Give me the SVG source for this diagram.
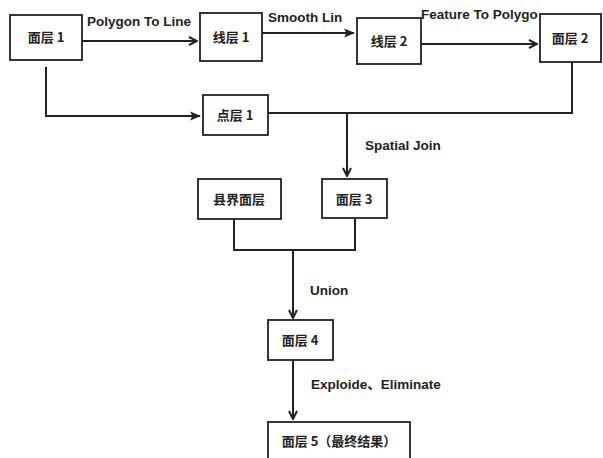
<svg xmlns="http://www.w3.org/2000/svg" width="603" height="458" viewBox="0 0 603 458">
<style>
.box{fill:#fff;stroke:#222;stroke-width:1.8}
.t{font-family:"Noto Sans CJK SC","Liberation Sans",sans-serif;font-size:13px;font-weight:bold;fill:#222;text-anchor:middle}
.l{font-family:"Liberation Sans","Noto Sans CJK SC",sans-serif;font-size:13.5px;font-weight:bold;fill:#222}
.c{fill:none;stroke:#222;stroke-width:2}
</style>
<defs>
<marker id="open" viewBox="0 0 10 10" refX="9" refY="5" markerWidth="10" markerHeight="10" markerUnits="userSpaceOnUse" orient="auto">
<path d="M1,1 L9,5 L1,9" fill="none" stroke="#222" stroke-width="2"/>
</marker>
<marker id="fill" viewBox="0 0 10 10" refX="9" refY="5" markerWidth="11" markerHeight="11" markerUnits="userSpaceOnUse" orient="auto">
<path d="M0,1 L10,5 L0,9 L2,5 Z" fill="#222"/>
</marker>
</defs>
<rect width="603" height="458" fill="#fff"/>
<g id="connectors">
<path class="c" d="M82,41 H197" marker-end="url(#open)"/>
<path class="c" d="M262,33 H354" marker-end="url(#fill)"/>
<path class="c" d="M421,44 H537" marker-end="url(#open)"/>
<path class="c" d="M46,67 V116 H200" marker-end="url(#fill)"/>
<path class="c" d="M268,113 H572 V62"/>
<path class="c" d="M347,113 V176" marker-end="url(#open)"/>
<path class="c" d="M234,219 V250 H355 V219"/>
<path class="c" d="M293,250 V318" marker-end="url(#open)"/>
<path class="c" d="M293,360 V419" marker-end="url(#open)"/>
<text class="l" x="87" y="26">Polygon To Line</text>
<text class="l" x="268" y="22">Smooth Lin</text>
<text class="l" x="421" y="19">Feature To Polygo</text>
<text class="l" x="365" y="150">Spatial Join</text>
<text class="l" x="310" y="295">Union</text>
<text class="l" x="311" y="389">Exploide、Eliminate</text>
</g>
<g id="n1"><rect class="box" x="10" y="15" width="72" height="45"/><text class="t" x="46" y="42">面层 1</text></g>
<g id="n2"><rect class="box" x="200" y="13" width="62" height="48"/><text class="t" x="231" y="42">线层 1</text></g>
<g id="n3"><rect class="box" x="357" y="18" width="64" height="46"/><text class="t" x="389" y="46">线层 2</text></g>
<g id="n4"><rect class="box" x="540" y="14" width="61" height="48"/><text class="t" x="570" y="43">面层 2</text></g>
<g id="n5"><rect class="box" x="203" y="95" width="65" height="40"/><text class="t" x="235" y="120">点层 1</text></g>
<g id="n6"><rect class="box" x="198" y="179" width="83" height="40"/><text class="t" x="239" y="204">县界面层</text></g>
<g id="n7"><rect class="box" x="322" y="179" width="65" height="39"/><text class="t" x="354" y="204">面层 3</text></g>
<g id="n8"><rect class="box" x="268" y="320" width="65" height="40"/><text class="t" x="300" y="345">面层 4</text></g>
<g id="n9"><rect class="box" x="268" y="422" width="142" height="40"/><text class="t" x="339" y="446">面层 5（最终结果）</text></g>
</svg>
